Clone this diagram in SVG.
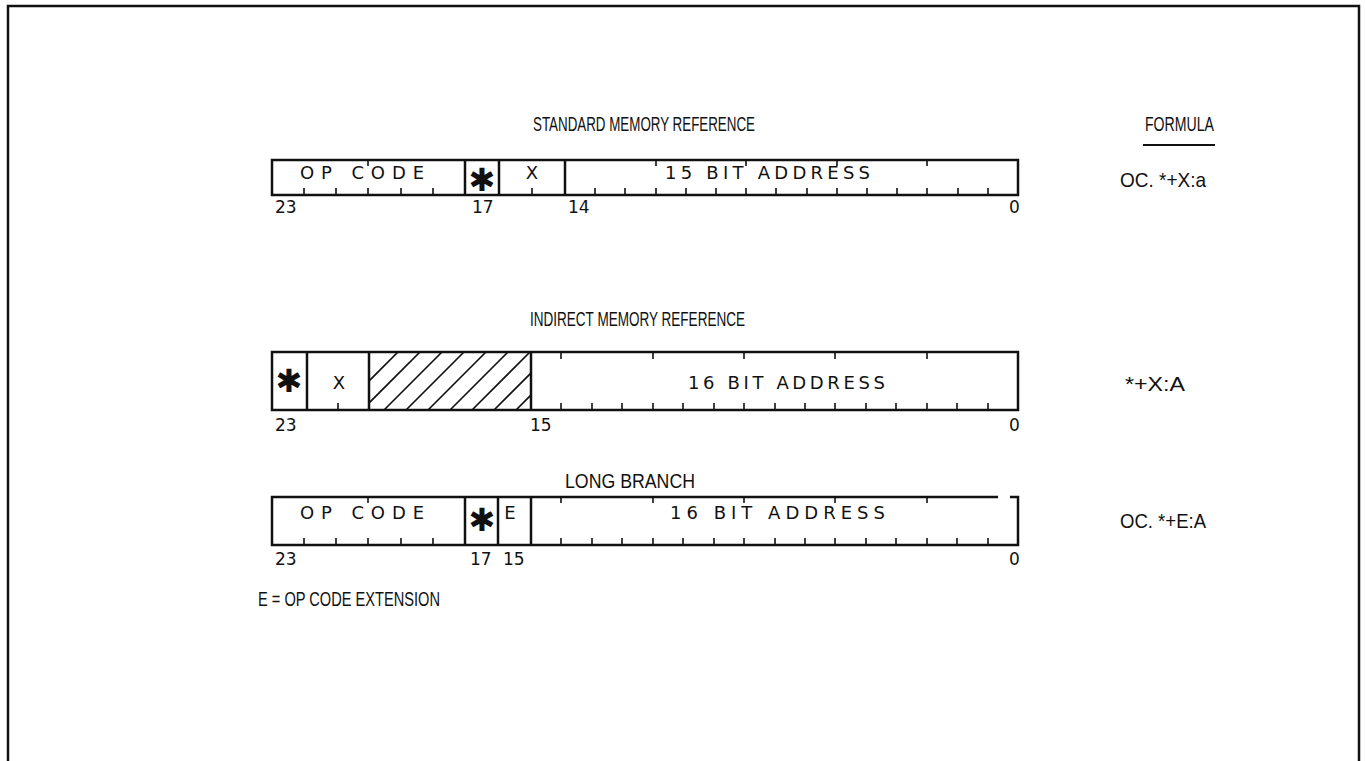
<svg xmlns="http://www.w3.org/2000/svg" width="1365" height="761" viewBox="0 0 1365 761">
<defs>
<style>
.frame{fill:none;stroke:#111;stroke-width:2.5}
.box{fill:none;stroke:#111;stroke-width:2.5}
.div{stroke:#111;stroke-width:2.5}
.tick{stroke:#111;stroke-width:1.6}
.title{font-family:"Liberation Sans",Arial,sans-serif;font-size:21px;fill:#111}
.form{font-family:"Liberation Sans",Arial,sans-serif;font-size:21px;fill:#111}
.lbl{font-family:"DejaVu Sans",sans-serif;font-size:18px;fill:#111}
.num{font-family:"DejaVu Sans",sans-serif;font-size:17px;fill:#111}
.star{font-family:"DejaVu Sans",sans-serif;font-size:32px;font-weight:bold;fill:#111}
.hatch{stroke:#111;stroke-width:1.6}
</style>
<clipPath id="hclip"><rect x="369" y="352" width="162" height="58"/></clipPath>
</defs>
<g id="frame"><path class="frame" d="M8,761 L8,6 L1359,6 L1359,761"/></g>

<g id="titles">
<text class="title" x="533" y="131" textLength="222" lengthAdjust="spacingAndGlyphs">STANDARD MEMORY REFERENCE</text>
<text class="title" x="1145" y="131" textLength="69" lengthAdjust="spacingAndGlyphs">FORMULA</text>
<line x1="1143" y1="145" x2="1215" y2="145" stroke="#111" stroke-width="2"/>
<text class="title" x="530" y="326" textLength="215" lengthAdjust="spacingAndGlyphs">INDIRECT MEMORY REFERENCE</text>
<text class="title" x="565" y="488" textLength="130" lengthAdjust="spacingAndGlyphs">LONG BRANCH</text>
<text class="title" x="258" y="606" textLength="182" lengthAdjust="spacingAndGlyphs">E = OP CODE EXTENSION</text>
</g>

<g id="formulas">
<text class="form" x="1120" y="187" textLength="86" lengthAdjust="spacingAndGlyphs">OC. *+X:a</text>
<text class="form" x="1125" y="391" textLength="60" lengthAdjust="spacingAndGlyphs">*+X:A</text>
<text class="form" x="1120" y="528" textLength="86" lengthAdjust="spacingAndGlyphs">OC. *+E:A</text>
</g>

<g id="reg-standard">
<rect class="box" x="272" y="160" width="746" height="35"/>
<line class="div" x1="465" y1="160" x2="465" y2="195"/>
<line class="div" x1="499" y1="160" x2="499" y2="195"/>
<line class="div" x1="565" y1="160" x2="565" y2="195"/>
<path class="tick" d="M304,195v-7M336,195v-7M368,195v-7M401,195v-7M433,195v-7M532,195v-7M595,195v-7M625,195v-7M656,195v-7M686,195v-7M716,195v-7M746,195v-7M776,195v-7M807,195v-7M837,195v-7M867,195v-7M897,195v-7M927,195v-7M958,195v-7M988,195v-7M368,160v6M656,160v6M746,160v6M837,160v6M927,160v6"/>
<text class="lbl" x="300" y="179" textLength="124" lengthAdjust="spacing">OP CODE</text>
<text class="star" x="482" y="191" text-anchor="middle">✱</text>
<text class="lbl" x="532" y="179" text-anchor="middle">X</text>
<text class="lbl" x="665" y="179" textLength="205" lengthAdjust="spacing">15 BIT ADDRESS</text>
<text class="num" x="275" y="213">23</text>
<text class="num" x="472" y="213">17</text>
<text class="num" x="568" y="213">14</text>
<text class="num" x="1009" y="213">0</text>
</g>

<g id="reg-indirect">
<rect class="box" x="272" y="352" width="746" height="58"/>
<line class="div" x1="307" y1="352" x2="307" y2="410"/>
<line class="div" x1="369" y1="352" x2="369" y2="410"/>
<line class="div" x1="531" y1="352" x2="531" y2="410"/>
<g clip-path="url(#hclip)">
<path class="hatch" d="M340,410l58,-58M362,410l58,-58M384,410l58,-58M406,410l58,-58M428,410l58,-58M450,410l58,-58M472,410l58,-58M494,410l58,-58M516,410l58,-58"/>
</g>
<path class="tick" d="M338,410v-7M561,410v-7M592,410v-7M622,410v-7M653,410v-7M683,410v-7M714,410v-7M744,410v-7M775,410v-7M805,410v-7M835,410v-7M866,410v-7M896,410v-7M927,410v-7M957,410v-7M988,410v-7M561,352v7M653,352v7M744,352v7M835,352v7M927,352v7"/>
<text class="star" x="289" y="392" text-anchor="middle">✱</text>
<text class="lbl" x="339" y="389" text-anchor="middle">X</text>
<text class="lbl" x="688" y="389" textLength="197" lengthAdjust="spacing">16 BIT ADDRESS</text>
<text class="num" x="275" y="431">23</text>
<text class="num" x="530" y="431">15</text>
<text class="num" x="1009" y="431">0</text>
</g>

<g id="reg-longbranch">
<path class="box" d="M998,497 L272,497 L272,545 L1018,545 L1018,497 L1010,497"/>
<line class="div" x1="465" y1="497" x2="465" y2="545"/>
<line class="div" x1="498" y1="497" x2="498" y2="545"/>
<line class="div" x1="531" y1="497" x2="531" y2="545"/>
<path class="tick" d="M304,545v-7M336,545v-7M368,545v-7M401,545v-7M433,545v-7M561,545v-7M592,545v-7M622,545v-7M653,545v-7M683,545v-7M714,545v-7M744,545v-7M775,545v-7M805,545v-7M835,545v-7M866,545v-7M896,545v-7M927,545v-7M957,545v-7M988,545v-7M368,497v6M561,497v6M653,497v6M744,497v6M835,497v6M927,497v6"/>
<text class="lbl" x="300" y="519" textLength="124" lengthAdjust="spacing">OP CODE</text>
<text class="star" x="482" y="531" text-anchor="middle">✱</text>
<text class="lbl" x="510" y="519" text-anchor="middle">E</text>
<text class="lbl" x="670" y="519" textLength="215" lengthAdjust="spacing">16 BIT ADDRESS</text>
<text class="num" x="275" y="565">23</text>
<text class="num" x="470" y="565">17</text>
<text class="num" x="503" y="565">15</text>
<text class="num" x="1009" y="565">0</text>
</g>
</svg>
